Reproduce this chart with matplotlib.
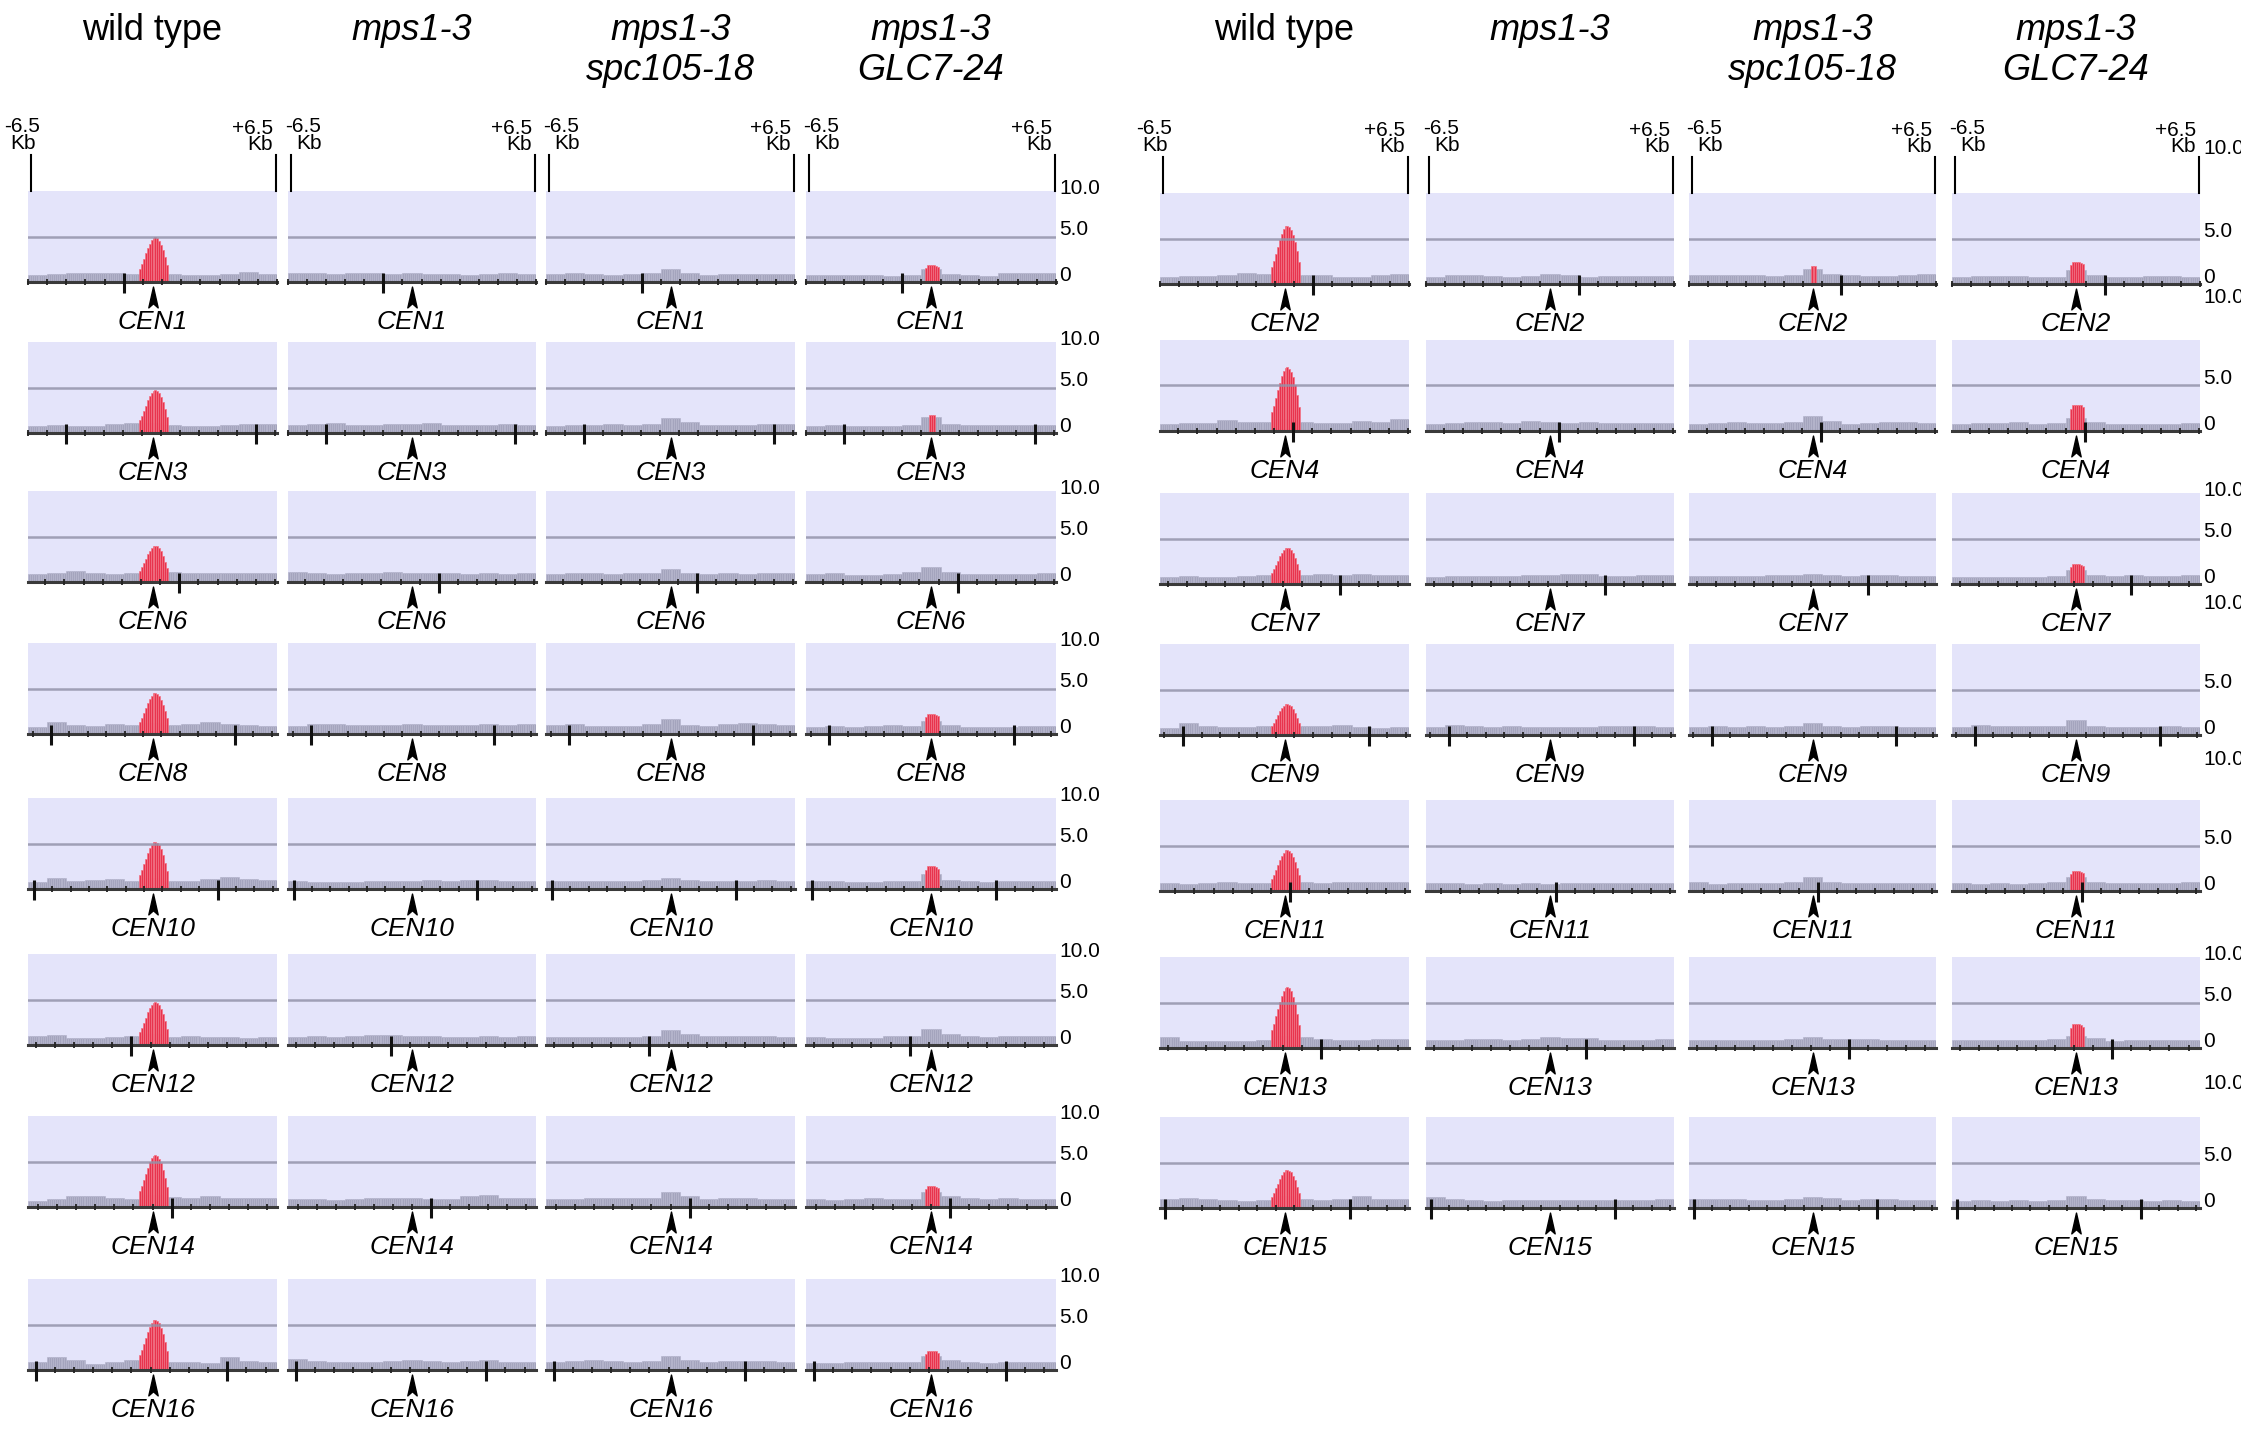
import numpy as np
import matplotlib.pyplot as plt
from matplotlib.path import Path

plt.rcParams['font.family'] = ['Liberation Sans', 'DejaVu Sans']

W, H = 2241, 1429

# column headers (one list per line of text)
head_line1 = ['wild type', 'mps1-3', 'mps1-3', 'mps1-3']
head_line2 = ['', '', 'spc105-18', 'GLC7-24']
head_italic = [False, True, True, True]

cen_left = ['CEN1', 'CEN3', 'CEN6', 'CEN8', 'CEN10', 'CEN12', 'CEN14', 'CEN16']
cen_right = ['CEN2', 'CEN4', 'CEN7', 'CEN9', 'CEN11', 'CEN13', 'CEN15']

# peak maxima (0-10 scale), 0 = no called peak
peak_wt_left = [4.9, 4.7, 4.0, 4.5, 5.2, 4.7, 5.7, 5.5]
peak_mps_left = [0, 0, 0, 0, 0, 0, 0, 0]
peak_spc_left = [0, 0, 0, 0, 0, 0, 0, 0]
peak_glc_left = [1.85, 2.0, 0, 2.2, 2.5, 0, 2.3, 2.1]
peak_wt_right = [6.4, 7.0, 4.0, 3.4, 4.5, 6.7, 4.2]
peak_mps_right = [0, 0, 0, 0, 0, 0, 0]
peak_spc_right = [1.95, 0, 0, 0, 0, 0, 0]
peak_glc_right = [2.4, 2.9, 2.2, 0, 2.2, 2.6, 0]

# peak shape type per GLC7-24 panel
glc_kind_left = ['block', 'narrow', 'block', 'block', 'block', 'block', 'block', 'block']
glc_kind_right = ['block', 'block', 'block', 'block', 'block', 'block', 'block']

# normalized peak profiles (0.1 kb bins)
wt_shape = [0.30, 0.40, 0.52, 0.64, 0.76, 0.86, 0.94, 0.99, 1.0, 0.98, 0.93, 0.84, 0.72, 0.56, 0.38]
block_shape = [0.85, 1.0, 1.0, 1.0, 1.0, 0.97, 0.9]
narrow_shape = [1.0, 1.0, 1.0]

# background signal, 1 kb steps from -6.5 to +6.5
bg_wt_left = [
    [0.8, 0.9, 1.0, 1.0, 1.0, 0.9, 1.2, 0.9, 0.8, 0.8, 0.9, 1.1, 0.9],
    [0.8, 0.9, 0.8, 0.8, 1.0, 1.1, 1.1, 0.9, 0.8, 0.8, 0.9, 1.0, 1.0],
    [0.9, 1.0, 1.2, 1.0, 0.9, 1.0, 1.2, 1.1, 1.0, 1.0, 1.0, 1.0, 1.0],
    [0.8, 1.3, 1.0, 0.9, 1.1, 1.0, 1.2, 1.0, 1.1, 1.3, 1.1, 1.0, 0.9],
    [0.8, 1.2, 0.9, 1.0, 1.1, 0.9, 1.2, 0.9, 0.9, 1.1, 1.3, 1.1, 1.0],
    [1.0, 1.1, 0.8, 0.8, 0.9, 1.0, 1.2, 0.9, 1.0, 0.9, 0.9, 0.8, 0.9],
    [0.7, 0.9, 1.2, 1.2, 1.0, 0.9, 1.3, 1.1, 1.0, 1.2, 1.0, 1.0, 1.0],
    [0.9, 1.4, 1.1, 0.7, 0.9, 1.1, 1.2, 0.9, 0.9, 0.8, 1.4, 1.0, 0.9],
]
bg_mps_left = [
    [1.0, 1.0, 0.9, 1.0, 1.0, 0.9, 1.0, 0.9, 0.9, 0.8, 0.9, 1.0, 0.9],
    [0.9, 1.0, 1.1, 0.9, 0.9, 1.0, 1.0, 1.1, 0.9, 0.9, 0.9, 1.0, 0.9],
    [1.1, 1.0, 0.9, 1.0, 1.0, 1.1, 1.0, 1.0, 1.0, 0.9, 1.0, 0.9, 1.0],
    [0.9, 1.1, 1.1, 1.0, 1.0, 1.0, 1.1, 1.0, 1.0, 1.0, 1.1, 1.0, 1.1],
    [0.9, 0.8, 0.8, 0.8, 0.9, 0.9, 0.9, 1.0, 0.9, 1.0, 1.0, 0.9, 0.9],
    [0.9, 1.0, 0.9, 1.0, 1.1, 1.1, 1.0, 1.0, 0.9, 0.9, 1.0, 0.9, 1.0],
    [0.9, 0.9, 0.8, 0.9, 1.0, 1.0, 1.0, 0.9, 0.9, 1.2, 1.3, 1.0, 1.0],
    [1.2, 1.0, 0.9, 0.9, 0.9, 1.0, 1.1, 1.0, 0.9, 1.0, 1.1, 0.9, 0.9],
]
bg_spc_left = [
    [0.9, 1.0, 0.9, 0.8, 0.9, 1.0, 1.4, 1.0, 0.8, 0.9, 0.9, 0.9, 0.9],
    [0.8, 0.9, 0.9, 1.0, 0.9, 1.0, 1.6, 1.2, 0.9, 0.9, 0.9, 1.0, 1.0],
    [0.9, 1.0, 1.0, 0.9, 1.0, 1.0, 1.4, 1.0, 0.9, 1.0, 0.9, 1.0, 1.0],
    [1.0, 1.1, 0.9, 0.9, 0.9, 1.1, 1.6, 1.0, 0.9, 1.1, 1.2, 1.1, 1.0],
    [0.9, 0.9, 0.9, 0.9, 0.9, 1.0, 1.2, 1.0, 0.9, 0.9, 0.9, 1.0, 0.9],
    [0.9, 0.9, 0.9, 0.9, 0.9, 1.0, 1.7, 1.2, 1.0, 1.0, 1.0, 1.0, 0.9],
    [0.9, 0.9, 1.0, 1.0, 1.0, 1.0, 1.6, 1.2, 0.9, 1.0, 1.0, 0.9, 0.9],
    [0.9, 1.0, 1.1, 1.0, 0.9, 1.0, 1.5, 1.1, 0.9, 1.0, 1.0, 1.0, 0.9],
]
bg_glc_left = [
    [0.8, 0.8, 0.8, 0.8, 0.7, 0.8, 1.4, 0.9, 0.8, 0.7, 1.0, 1.0, 1.0],
    [0.8, 0.9, 0.8, 0.8, 0.8, 0.9, 1.8, 1.0, 0.9, 0.9, 0.9, 0.9, 0.9],
    [0.9, 1.0, 0.8, 0.8, 0.9, 1.1, 1.7, 1.1, 0.9, 0.9, 0.9, 0.9, 1.0],
    [0.8, 0.9, 0.8, 0.9, 1.0, 0.9, 1.4, 1.0, 0.8, 0.8, 0.8, 0.9, 0.9],
    [0.9, 0.9, 0.8, 0.8, 0.9, 0.9, 1.6, 1.0, 0.9, 0.8, 0.9, 0.9, 0.9],
    [0.9, 0.8, 0.8, 0.8, 1.0, 1.0, 1.8, 1.2, 1.0, 0.9, 1.0, 1.0, 1.0],
    [0.9, 0.8, 0.9, 1.0, 0.9, 0.9, 1.6, 1.2, 1.0, 0.9, 1.0, 0.9, 0.9],
    [0.8, 0.8, 0.9, 0.9, 0.9, 0.9, 1.5, 1.1, 0.9, 0.8, 0.9, 0.9, 0.9],
]
bg_wt_right = [
    [0.8, 0.9, 0.9, 1.0, 1.2, 1.1, 1.3, 1.0, 1.0, 0.8, 0.8, 1.0, 1.1],
    [0.8, 0.9, 0.9, 1.2, 1.0, 1.0, 1.3, 1.0, 0.9, 0.9, 1.1, 1.0, 1.3],
    [0.8, 0.9, 0.8, 0.8, 0.9, 1.0, 1.2, 1.0, 1.1, 1.0, 1.1, 1.0, 1.0],
    [0.8, 1.3, 1.0, 0.9, 0.9, 1.0, 1.3, 1.0, 1.0, 1.1, 0.9, 0.8, 0.9],
    [0.9, 0.8, 0.9, 1.0, 0.9, 0.9, 1.2, 1.0, 0.9, 1.0, 1.0, 1.0, 1.0],
    [1.2, 0.8, 0.8, 0.8, 0.8, 0.9, 1.3, 1.2, 1.0, 0.9, 0.9, 1.0, 1.0],
    [1.0, 1.1, 1.0, 0.9, 0.8, 0.9, 1.3, 1.0, 0.9, 1.0, 1.3, 1.0, 1.0],
]
bg_mps_right = [
    [0.8, 1.0, 1.0, 0.9, 0.8, 0.9, 1.1, 1.0, 0.8, 0.9, 0.9, 0.9, 0.9],
    [0.8, 0.9, 1.0, 1.0, 0.9, 1.1, 1.0, 0.9, 1.0, 0.9, 0.9, 0.9, 0.9],
    [0.8, 0.9, 0.9, 0.9, 0.9, 1.0, 1.0, 1.1, 1.1, 0.9, 0.9, 1.0, 1.0],
    [0.9, 1.1, 1.0, 0.9, 1.0, 0.9, 0.9, 0.9, 0.9, 1.0, 1.0, 1.0, 0.9],
    [0.9, 0.9, 0.8, 0.9, 0.8, 0.9, 0.8, 0.9, 0.9, 0.9, 0.9, 0.9, 0.9],
    [0.9, 0.9, 1.0, 1.0, 0.9, 1.0, 1.2, 1.1, 1.1, 0.9, 0.9, 0.9, 1.0],
    [1.2, 1.0, 0.9, 0.8, 0.9, 0.9, 0.9, 0.9, 0.9, 0.9, 0.9, 0.9, 1.0],
]
bg_spc_right = [
    [1.0, 1.0, 1.0, 1.0, 0.9, 1.0, 1.7, 1.1, 1.0, 0.9, 0.9, 1.0, 1.1],
    [0.8, 0.9, 1.0, 0.9, 0.9, 1.0, 1.6, 1.1, 0.8, 0.9, 1.0, 1.0, 0.9],
    [0.9, 0.9, 0.9, 0.9, 1.0, 1.0, 1.1, 1.0, 0.9, 1.0, 1.0, 0.9, 0.9],
    [0.9, 1.0, 0.9, 1.0, 0.9, 1.0, 1.3, 1.0, 0.9, 1.0, 1.0, 0.9, 0.9],
    [1.0, 0.8, 0.9, 0.9, 0.9, 1.0, 1.5, 1.0, 0.9, 0.9, 0.9, 0.9, 0.9],
    [0.9, 0.9, 0.9, 0.9, 0.9, 1.0, 1.2, 1.0, 1.0, 1.0, 0.9, 0.9, 0.9],
    [1.0, 1.0, 1.0, 0.9, 0.9, 1.0, 1.2, 1.1, 0.9, 1.0, 1.0, 0.9, 0.9],
]
bg_glc_right = [
    [0.8, 0.9, 0.9, 0.9, 0.8, 0.8, 1.5, 1.0, 0.8, 0.8, 0.9, 0.9, 0.8],
    [0.8, 0.9, 0.9, 1.0, 0.8, 0.9, 1.4, 1.0, 0.8, 0.8, 0.8, 0.8, 0.9],
    [0.8, 0.8, 0.8, 0.8, 0.8, 0.9, 1.5, 1.0, 0.9, 1.0, 0.9, 0.9, 1.0],
    [0.9, 1.1, 1.0, 1.0, 1.0, 1.0, 1.6, 1.0, 0.9, 0.9, 0.9, 1.0, 0.9],
    [0.9, 0.8, 0.9, 0.8, 0.9, 1.0, 1.5, 1.0, 0.9, 0.9, 0.9, 0.9, 1.0],
    [0.9, 0.9, 0.9, 0.9, 0.9, 1.0, 1.3, 1.1, 0.8, 0.9, 0.9, 0.9, 0.9],
    [0.8, 0.9, 0.8, 0.9, 0.8, 0.9, 1.3, 1.0, 0.9, 0.9, 0.8, 0.9, 0.8],
]

# large (10 kb) coordinate ticks, kb from the centromere
major_left = [[-1.5], [-4.5, 5.4], [1.4], [-5.3, 4.3], [-6.2, 3.4], [-1.1], [1.0], [-6.1, 3.9]]
major_right = [[1.5], [0.45], [2.9], [-5.3, 4.4], [0.3], [1.9], [-6.25, 3.4]]

# ---- layout (pixels of the 2241x1429 canvas) ----
cols_left = [(28, 277), (288, 536), (546, 795), (806, 1056)]
cols_right = [(1160, 1409), (1426, 1674), (1689, 1936), (1952, 2200)]
rows_left = [191, 342, 491, 643, 798, 954, 1116, 1279]
rows_right = [193, 340, 493, 644, 800, 957, 1117]
panel_h = 91
ten_shift_right = [4.6, 4.4, 0, 4.2, 4.2, 0, 3.4]

LAV = '#e4e4fa'
GREY = '#a4a4bd'
GREY_E = '#b6b6cd'
RED = '#e8334d'
RED_E = '#f27385'
LINE5 = '#9393aa'

arrow = Path([(0, 1), (0.45, -1), (0, -0.6), (-0.45, -1), (0, 1)],
             [Path.MOVETO, Path.LINETO, Path.LINETO, Path.LINETO, Path.CLOSEPOLY])

xc = np.arange(130) * 0.1 - 6.45

fig = plt.figure(figsize=(W / 100, H / 100), dpi=100)


def panel(x0, x1, top, bg, peak, shape, major, cen):
    ax = fig.add_axes([x0 / W, 1 - (top + panel_h) / H, (x1 - x0) / W, panel_h / H])
    ax.set_facecolor(LAV)
    ax.set_xlim(-6.5, 6.5)
    ax.set_ylim(0, 10)
    for s in ax.spines.values():
        s.set_visible(False)
    ax.set_xticks([])
    ax.set_yticks([])

    sig = np.repeat(np.array(bg, dtype=float), 10)
    ax.bar(xc, sig, width=0.1, color=GREY, edgecolor=GREY_E, linewidth=0.5, zorder=2)
    if peak > 0:
        sh = np.array(shape)
        i0 = 65 - len(sh) // 2
        idx = np.arange(i0, i0 + len(sh))
        ph = np.maximum(sh * peak, sig[idx])
        ax.bar(xc[idx], ph, width=0.1, color=RED, edgecolor=RED_E, linewidth=0.5, zorder=3)
    ax.axhline(5.0, color=LINE5, lw=1.8, alpha=0.85, zorder=4)

    # genome axis
    ax.plot([-6.5, 6.5], [0, 0], color='#3a3a3a', lw=2.2, clip_on=False, zorder=5)
    step = 1.0 if len(major) == 1 else (major[1] - major[0]) / 10
    k = np.arange(-20, 21)
    minor = major[0] + k * step
    minor = minor[(minor >= -6.5) & (minor <= 6.5)]
    ax.vlines(minor, -0.35, 0.35, color='#222222', lw=1.3, clip_on=False, zorder=5)
    ax.vlines(major, -1.2, 1.0, color='#111111', lw=2.2, clip_on=False, zorder=5)

    ax.plot([0], [-1.6], marker=arrow, markersize=15, color='black', clip_on=False)
    ax.text(0, -4.4, cen, ha='center', va='center', fontsize=19, style='italic')
    return ax


def kb_labels(ax, first):
    px = 13.0 / 249
    xl = -6.5 + 3 * px
    xr = 6.5 - 1 * px
    fs = 15
    ax.plot([xl, xl], [10, 14.0], color='black', lw=1.5, clip_on=False)
    ax.plot([xr, xr], [10, 14.0], color='black', lw=1.5, clip_on=False)
    if first:
        ax.text(xl - 9 * px, 17.1, '-6.5', ha='center', va='center', fontsize=fs)
        ax.text(xl - 8 * px, 15.2, 'Kb', ha='center', va='center', fontsize=fs)
    else:
        ax.text(xl - 6 * px, 17.1, '-6.5', ha='left', va='center', fontsize=fs)
        ax.text(xl + 5 * px, 15.2, 'Kb', ha='left', va='center', fontsize=fs)
    ax.text(xr - 3 * px, 16.9, '+6.5', ha='right', va='center', fontsize=fs)
    ax.text(xr - 3 * px, 15.1, 'Kb', ha='right', va='center', fontsize=fs)


def y_labels(ax, shift):
    tr = ax.get_yaxis_transform()
    ax.text(1.012, 10.3 + shift, '10.0', transform=tr, ha='left', va='center', fontsize=15)
    ax.text(1.012, 5.8, '5.0', transform=tr, ha='left', va='center', fontsize=15)
    ax.text(1.012, 0.7, '0', transform=tr, ha='left', va='center', fontsize=15)


def group(cols, rows, cens, bgs, peaks, majors, glc_kind, shifts):
    for c, (x0, x1) in enumerate(cols):
        for r, top in enumerate(rows):
            if c == 0:
                shape = wt_shape
            elif c == 3:
                shape = block_shape if glc_kind[r] == 'block' else narrow_shape
            else:
                shape = narrow_shape
            ax = panel(x0, x1, top, bgs[c][r], peaks[c][r], shape, majors[r], cens[r])
            if r == 0:
                kb_labels(ax, c == 0)
            if c == 3:
                y_labels(ax, shifts[r])
        xm = (x0 + x1) / 2
        st = 'italic' if head_italic[c] else 'normal'
        fig.text(xm / W, 1 - 30 / H, head_line1[c], ha='center', va='center',
                 fontsize=26, style=st)
        if head_line2[c]:
            fig.text(xm / W, 1 - 70 / H, head_line2[c], ha='center', va='center',
                     fontsize=26, style=st)


group(cols_left, rows_left, cen_left,
      [bg_wt_left, bg_mps_left, bg_spc_left, bg_glc_left],
      [peak_wt_left, peak_mps_left, peak_spc_left, peak_glc_left],
      major_left, glc_kind_left, [0] * len(rows_left))
group(cols_right, rows_right, cen_right,
      [bg_wt_right, bg_mps_right, bg_spc_right, bg_glc_right],
      [peak_wt_right, peak_mps_right, peak_spc_right, peak_glc_right],
      major_right, glc_kind_right, ten_shift_right)

fig.savefig('out.png', dpi=100, facecolor='white')
